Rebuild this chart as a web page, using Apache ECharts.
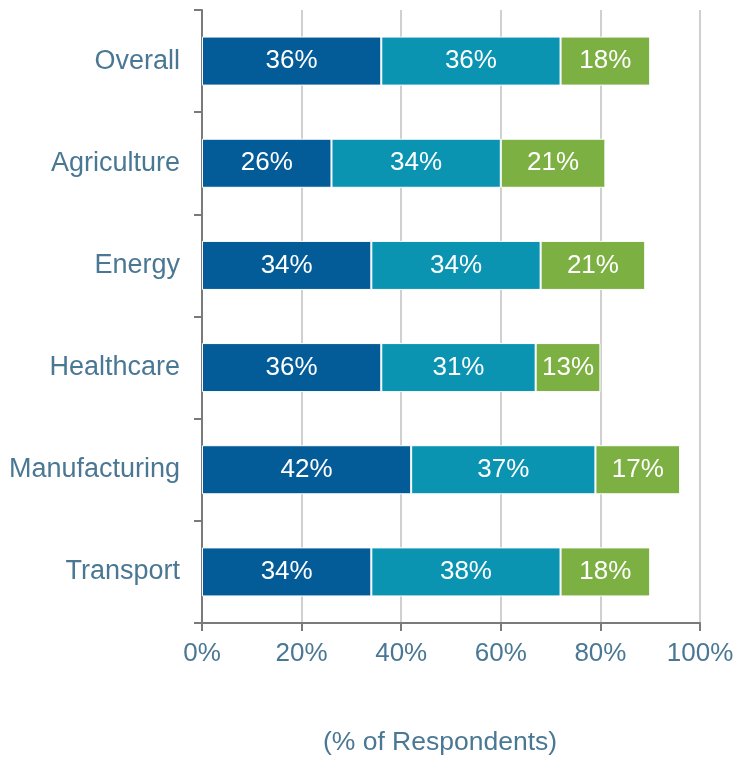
<!DOCTYPE html>
<html>
<head>
<meta charset="utf-8">
<script src="https://cdn.jsdelivr.net/npm/echarts@6/dist/echarts.min.js"></script>
<style>
  html, body { margin: 0; padding: 0; background: #fff; }
  #chart { width: 738px; height: 757px; }
</style>
</head>
<body>
<div id="chart"></div>
<script>
// Sectors shown top to bottom
const categories = ['Overall', 'Agriculture', 'Energy', 'Healthcare', 'Manufacturing', 'Transport'];

// Share of respondents (%) for each of the three stacked groups
const segmentA = [36, 26, 34, 36, 42, 34];
const segmentB = [36, 34, 34, 31, 37, 38];
const segmentC = [18, 21, 21, 13, 17, 18];

const xTicks = [0, 20, 40, 60, 80, 100];

const FONT = '"Liberation Sans", Arial, sans-serif';
const TEXT = '#4A7894';
const AXIS = '#7a7a7a';
const SIZE = 26;

function stackSeries(name, data, color) {
  return {
    name: name,
    type: 'bar',
    stack: 'total',
    data: data,
    barWidth: '48%',
    itemStyle: { color: color, borderColor: '#ffffff', borderWidth: 1 },
    label: {
      show: true,
      position: 'inside',
      formatter: p => p.value + '%',
      color: '#ffffff',
      fontSize: SIZE,
      fontFamily: FONT
    }
  };
}

const chart = echarts.init(document.getElementById('chart'), null, { renderer: 'canvas' });
chart.setOption({
  animation: false,
  backgroundColor: '#ffffff',
  grid: {
    left: 202, right: 38, top: 10, bottom: 134,
    containLabel: false,
    outerBoundsMode: 'none'
  },
  xAxis: {
    type: 'value',
    min: xTicks[0],
    max: xTicks[xTicks.length - 1],
    interval: 20,
    name: '(% of Respondents)',
    nameLocation: 'middle',
    nameGap: 106,
    nameTextStyle: {
      color: TEXT, fontSize: 26.5, fontFamily: FONT,
      padding: [0, 22, 0, 0]
    },
    axisLine: { show: true, lineStyle: { color: AXIS, width: 2 } },
    axisTick: { show: true, length: 8, lineStyle: { color: AXIS, width: 2 } },
    axisLabel: {
      color: TEXT, fontSize: SIZE, fontFamily: FONT, margin: 18,
      formatter: v => v + '%'
    },
    splitLine: { show: true, lineStyle: { color: '#d0d0d0', width: 2 } }
  },
  yAxis: {
    type: 'category',
    data: categories,
    inverse: true,
    axisLine: { show: true, lineStyle: { color: AXIS, width: 2 } },
    axisTick: { show: true, length: 8, alignWithLabel: false, lineStyle: { color: AXIS, width: 2 } },
    axisLabel: { color: TEXT, fontSize: 27, fontFamily: FONT, margin: 22 },
    splitLine: { show: false }
  },
  series: [
    stackSeries('A', segmentA, '#035C98'),
    stackSeries('B', segmentB, '#0A94B2'),
    stackSeries('C', segmentC, '#7DB042')
  ]
});
</script>
</body>
</html>
